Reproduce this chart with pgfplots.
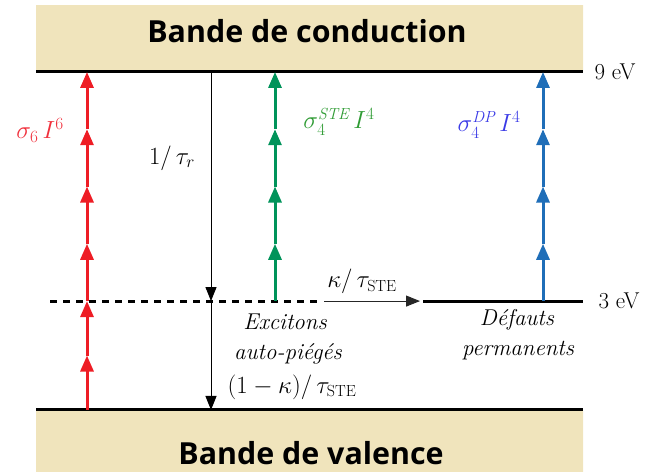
\documentclass[border=0pt]{standalone}
\usepackage{pgfplots}
\pgfplotsset{compat=1.18}
\usepackage{fontspec}
\usetikzlibrary{arrows.meta}
\newfontfamily\bandfont{Open Sans}
\definecolor{bandbg}{HTML}{F0E4BC}
\definecolor{rouge}{HTML}{EE1D25}
\definecolor{vert}{HTML}{00935A}
\definecolor{bleu}{HTML}{1F6EB8}
\definecolor{vertt}{HTML}{2E9B33}
\definecolor{bleut}{HTML}{3A3AE6}
\definecolor{rouget}{HTML}{F0303C}
\tikzset{lbl/.style={font=\fontsize{23}{27}\selectfont},
         band/.style={font=\bandfont\bfseries\fontsize{30.5}{36}\selectfont, inner sep=0pt}}

% levels in eV (valence 0, STE level 2.9, conduction 9), x in pixels of the sketch
\pgfplotstableread{
x  y      dv
87 0.0    1.45
87 1.45   1.45
87 2.9    1.525
87 4.425  1.525
87 5.95   1.525
87 7.475  1.525
}\sixphoton
\pgfplotstableread{
x   y      dv
275 2.9    1.525
275 4.425  1.525
275 5.95   1.525
275 7.475  1.525
}\stephoton
\pgfplotstableread{
x   y      dv
543 2.9    1.525
543 4.425  1.525
543 5.95   1.525
543 7.475  1.525
}\dpphoton

\begin{document}
\begin{tikzpicture}
\begin{axis}[
  scale only axis, width=645bp, height=472bp,
  xmin=0, xmax=645, ymin=-1.651, ymax=10.916,
  hide axis, clip=false,
]
  \path (rel axis cs:0,0) rectangle (rel axis cs:1,1);
  % bands
  \addplot[fill=bandbg, draw=none] coordinates {(36,9) (583,9) (583,10.78) (36,10.78) (36,9)};
  \addplot[fill=bandbg, draw=none] coordinates {(36,0) (583,0) (583,-1.651) (36,-1.651) (36,0)};
  \node[band] at (axis cs:307,10.1) {Bande de conduction};
  \node[band] at (axis cs:311,-1.16) {Bande de valence};

  % levels
  \addplot[black, line width=3bp] coordinates {(36,9) (583,9)};
  \addplot[black, line width=3bp] coordinates {(36,0) (583,0)};
  \addplot[black, line width=3bp, dash pattern=on 7bp off 6bp] coordinates {(50,2.9) (320,2.9)};
  \addplot[black, line width=3bp] coordinates {(423,2.9) (583,2.9)};
  \node[lbl, anchor=west] at (axis cs:591,9) {9 eV};
  \node[lbl, anchor=west] at (axis cs:595,2.9) {3 eV};

  % multiphoton excitation
  \addplot[rouge, line width=3bp, quiver={u=0, v=\thisrow{dv}}, -{Triangle[length=16bp, width=13bp]}] table[x=x, y=y] {\sixphoton};
  \addplot[vert, line width=3bp, quiver={u=0, v=\thisrow{dv}}, -{Triangle[length=16bp, width=13bp]}] table[x=x, y=y] {\stephoton};
  \addplot[bleu, line width=3bp, quiver={u=0, v=\thisrow{dv}}, -{Triangle[length=16bp, width=13bp]}] table[x=x, y=y] {\dpphoton};

  % relaxation
  \addplot[black, line width=1bp, -{Triangle[length=14bp, width=11bp]}] coordinates {(211,9) (211,2.9)};
  \addplot[black, line width=1bp, -{Triangle[length=14bp, width=11bp]}] coordinates {(211,2.9) (211,0)};
  \addplot[black!85, line width=1bp, -{Triangle[length=14bp, width=11bp]}] coordinates {(324,2.9) (420,2.9)};

  % labels
  \node[lbl, rouget] at (axis cs:40,7.45) {$\sigma_6\, I^6$};
  \node[lbl, vertt] at (axis cs:339,7.67) {$\sigma_4^{\mathit{STE}}\, I^4$};
  \node[lbl, bleut] at (axis cs:489,7.59) {$\sigma_4^{\mathit{DP}}\, I^4$};
  \node[lbl] at (axis cs:172,6.71) {$1/\,\tau_r$};
  \node[lbl] at (axis cs:362,3.43) {$\kappa/\,\tau_{\mathrm{STE}}$};
  \node[lbl] at (axis cs:285,2.34) {\itshape Excitons};
  \node[lbl] at (axis cs:288,1.49) {\itshape auto-piégés};
  \node[lbl] at (axis cs:292,0.61) {$(1-\kappa)/\,\tau_{\mathrm{STE}}$};
  \node[lbl] at (axis cs:517,2.40) {\itshape Défauts};
  \node[lbl] at (axis cs:518,1.57) {\itshape permanents};
\end{axis}
\end{tikzpicture}
\end{document}
